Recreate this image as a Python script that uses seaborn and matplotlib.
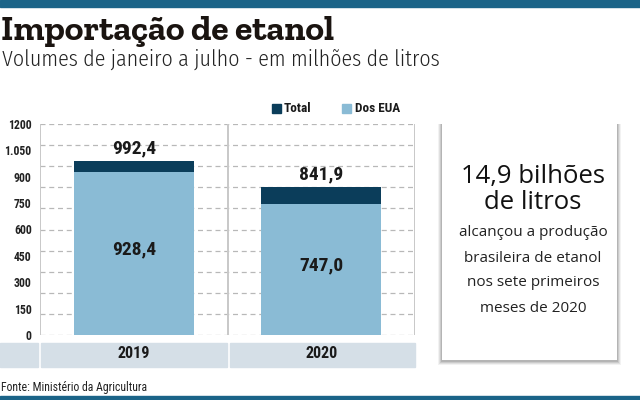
import matplotlib
matplotlib.use("Agg")
import matplotlib.pyplot as plt
import seaborn as sns
import pandas as pd
import numpy as np
from matplotlib.patches import Rectangle

# data
years = ["2019", "2020"]
total = [992.4, 841.9]
dos_eua = [928.4, 747.0]
total_labels = ["992,4", "841,9"]
eua_labels = ["928,4", "747,0"]
y_ticks = [0, 150, 300, 450, 600, 750, 900, 1050, 1200]
y_tick_labels = ["0", "150", "300", "450", "600", "750", "900", "1.050", "1200"]

DARK = "#0b3d5a"
LIGHT = "#8abbd5"
BAND = "#d5dfe7"
TOPBAR = "#1b6488"
COND = ["Roboto Condensed", "DejaVu Sans"]
SUB = ["Fira Sans Condensed", "DejaVu Sans"]
BOX = ["Open Sans", "DejaVu Sans"]

sns.set_style("white")
plt.rcParams["font.family"] = COND

df = pd.DataFrame({"ano": years, "total": total, "eua": dos_eua})

W, H = 640, 400
fig = plt.figure(figsize=(W / 100, H / 100), dpi=100)
ax = fig.add_axes([40 / W, 1 - 335 / H, (415 - 40) / W, (335 - 124) / H])
ax.set_facecolor("none")

sns.barplot(data=df, x="ano", y="total", color=DARK, width=0.64, ax=ax,
            saturation=1, linewidth=0, zorder=3)
sns.barplot(data=df, x="ano", y="eua", color=LIGHT, width=0.64, ax=ax,
            saturation=1, linewidth=0, zorder=4)

ax.set_xlim(-0.5, 1.5)
ax.set_ylim(0, 1200)
ax.set_yticks(y_ticks)
ax.set_yticklabels(y_tick_labels, fontsize=8.5, fontweight="bold", color="#222222")
ax.tick_params(axis="y", length=0, pad=6)
ax.tick_params(axis="x", length=0, pad=8, labelsize=11.5)
for lbl in ax.get_xticklabels():
    lbl.set_fontweight("bold")
    lbl.set_color("#1a1a1a")
ax.set_xlabel("")
ax.set_ylabel("")
# the dashed grid in the reference runs every 120, not at the labelled ticks
for y in np.arange(0, 1201, 120):
    ax.axhline(y, color="#b8b8b8", lw=0.9, ls=(0, (4, 3)), zorder=1)
for x in [-0.5, 0.5, 1.5]:
    ax.axvline(x, color="#c8c8c8", lw=1.4, zorder=2)
for s in ax.spines.values():
    s.set_visible(False)

for i, (t, e) in enumerate(zip(total, dos_eua)):
    ax.text(i, t + 18, total_labels[i], ha="center", va="bottom",
            fontsize=14, fontweight="bold", color="#1a1a1a", zorder=5)
    ax.text(i, e / 2 + 20, eua_labels[i], ha="center", va="center",
            fontsize=14, fontweight="bold", color="#1a1a1a", zorder=5)

# category band under the plot
for x0, x1 in [(0, 38), (41, 227), (230, 415)]:
    fig.patches.append(Rectangle((x0 / W, 1 - 367 / H), (x1 - x0) / W, 24 / H,
                                 transform=fig.transFigure, color=BAND, zorder=-1))

# legend
fig.patches.append(Rectangle((272 / W, 1 - 113 / H), 9 / W, 9 / H,
                             transform=fig.transFigure, color=DARK))
fig.text(284 / W, 1 - 108 / H, "Total", fontsize=9.5, fontweight="bold",
         va="center", color="#1a1a1a")
fig.patches.append(Rectangle((342 / W, 1 - 113 / H), 9 / W, 9 / H,
                             transform=fig.transFigure, color=LIGHT))
fig.text(355 / W, 1 - 108 / H, "Dos EUA", fontsize=9.5, fontweight="bold",
         va="center", color="#1a1a1a")

# top and bottom bars
fig.patches.append(Rectangle((0, 1 - 7 / H), 1, 7 / H, transform=fig.transFigure,
                             color=TOPBAR))
fig.patches.append(Rectangle((0, 0), 1, 4 / H, transform=fig.transFigure,
                             color=TOPBAR))

# titles
fig.text(1 / W, 1 - 40 / H, "Importação de etanol", fontsize=25.5, fontweight="bold",
         family=["Zilla Slab", "DejaVu Serif"], color="#1a1410", va="baseline")
fig.text(2 / W, 1 - 66 / H, "Volumes de janeiro a julho - em milhões de litros",
         fontsize=15.7, fontweight=300, family=SUB, color="#222222",
         va="baseline")
fig.text(1 / W, 1 - 387 / H, "Fonte: Ministério da Agricultura", fontsize=8.5,
         color="#222222", va="center")

# side box with shadow
for k, a in enumerate([0.05, 0.07, 0.09, 0.11]):
    d = 4 - k
    fig.patches.append(Rectangle(((442 - d) / W, 1 - (360 + d + 1) / H),
                                 (175 + 2 * d) / W, (237 + d) / H,
                                 transform=fig.transFigure, color="black",
                                 alpha=a, lw=0))
fig.patches.append(Rectangle((442 / W, 1 - 360 / H), 175 / W, 237 / H,
                             transform=fig.transFigure, color="white", lw=0))
cx = 533 / W
fig.text(cx, 1 - 177 / H, "14,9 bilhões", fontsize=18.5, ha="center", va="center",
         color="#111111", family=BOX)
fig.text(cx, 1 - 203 / H, "de litros", fontsize=18.5, ha="center", va="center",
         color="#111111", family=BOX)
for j, line in enumerate(["alcançou a produção", "brasileira de etanol",
                          "nos sete primeiros", "meses de 2020"]):
    fig.text(cx, 1 - (233 + j * 25) / H, line, fontsize=11, ha="center",
             va="center", color="#222222", family=BOX)

fig.savefig("out.png", dpi=100)
